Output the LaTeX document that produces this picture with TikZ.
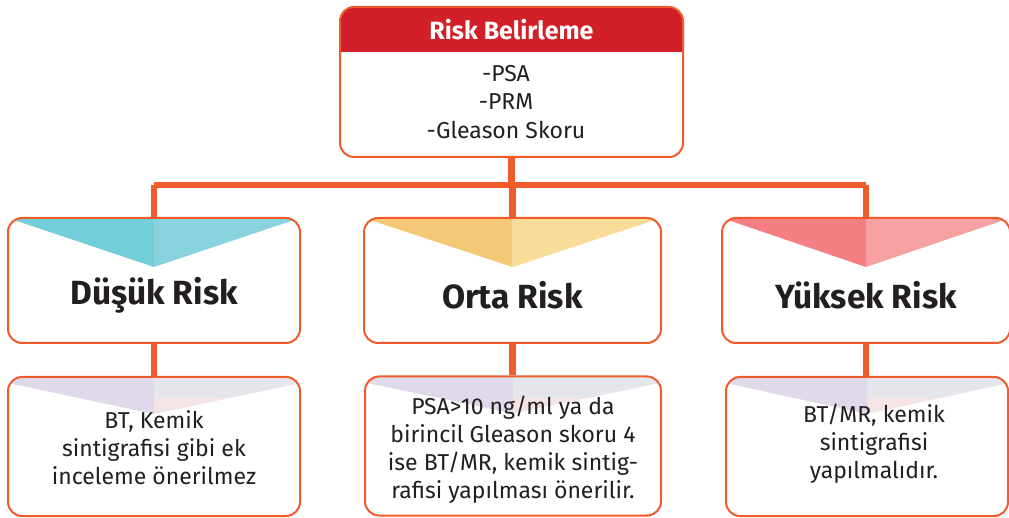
\documentclass[tikz,border=0pt]{standalone}
\usepackage{fontspec}
\setmainfont{Fira Sans}
\usetikzlibrary{calc}
\definecolor{orline}{HTML}{F15A2B}
\definecolor{hdrred}{HTML}{D12028}
\definecolor{txt}{HTML}{231F20}
\definecolor{tealL}{HTML}{72CFDA}
\definecolor{tealR}{HTML}{88D3DE}
\definecolor{yelL}{HTML}{F5C878}
\definecolor{yelR}{HTML}{F8DC98}
\definecolor{redL}{HTML}{F47E82}
\definecolor{redR}{HTML}{F6A09F}
\definecolor{lavL}{HTML}{DFD9E9}
\definecolor{grayR}{HTML}{E5E5EC}
\definecolor{pinkR}{HTML}{F4E4E6}
\pgfdeclarelayer{bg}
\pgfsetlayers{bg,main}
\tikzset{
  x=1pt, y=-1pt,
  conn/.style={line width=6.5pt, draw=orline},
  box/.style={draw=orline, line width=2pt, rounded corners=14pt, fill=white,
    inner sep=0pt, rectangle},
  midbox/.style 2 args={box, minimum width=292pt, minimum height=125pt,
    path picture={
      \fill[#1, sharp corners] (path picture bounding box.north west) -- (path picture bounding box.north)
        -- ($(path picture bounding box.north)+(0,49)$) -- cycle;
      \fill[#2, sharp corners] (path picture bounding box.north) -- (path picture bounding box.north east)
        -- ($(path picture bounding box.north)+(0,49)$) -- cycle;
    }},
  lowbox/.style={box, minimum height=139pt,
    path picture={
      \fill[lavL, sharp corners] (path picture bounding box.north west) -- (path picture bounding box.north)
        -- ($(path picture bounding box.north)+(0,37)$) -- ($(path picture bounding box.north west)+(0,6)$) -- cycle;
      \begin{scope}[sharp corners]
        \clip (path picture bounding box.north) -- (path picture bounding box.north east)
          -- ($(path picture bounding box.north east)+(0,6)$) -- ($(path picture bounding box.north)+(0,37)$) -- cycle;
        \fill[pinkR] ($(path picture bounding box.north)+(0,-2)$) rectangle ($(path picture bounding box.north east)+(0,40)$);
        \fill[grayR] ($(path picture bounding box.north)+(0,-2)$) rectangle ($(path picture bounding box.north east)+(0,21)$);
      \end{scope}
    }},
  title/.style={font=\bfseries\fontsize{33.5}{38}\selectfont, text=txt},
  body/.style={font=\fontsize{23}{28}\selectfont, text=txt, align=center},
}
\begin{document}
\begin{tikzpicture}
\useasboundingbox (0,0) rectangle (1009,518);
% top box
\node[box, minimum width=343pt, minimum height=150pt,
  path picture={\fill[hdrred, sharp corners] (path picture bounding box.north west) rectangle ($(path picture bounding box.north east)+(0,45)$);}]
  (top) at (511.5,82) {};
\node[font=\bfseries\fontsize{25}{28}\selectfont, text=white] (toptitle) at (511.5,30) {Risk Belirleme};
\node[font=\fontsize{23}{28.5}\selectfont, text=txt, align=center] (toptext) at (506,102) {-PSA\\-PRM\\-Gleason Skoru};
% middle boxes
\node[midbox={tealL}{tealR}] (m1) at (154,280.5) {};
\node[midbox={yelL}{yelR}, minimum width=297pt] (m2) at (512.5,280.5) {};
\node[midbox={redL}{redR}, minimum width=288pt] (m3) at (866,280.5) {};
\node[title] (t1) at (154,295) {Düşük Risk};
\node[title] (t2) at (512.5,295) {Orta Risk};
\node[title] (t3) at (866,295) {Yüksek Risk};
% bottom boxes
\node[lowbox, minimum width=292pt] (b1) at (154,446.5) {};
\node[lowbox, minimum width=296pt] (b2) at (513,446) {};
\node[lowbox, minimum width=282pt] (b3) at (867,446.5) {};
\node[body] (x1) at (154,448) {BT, Kemik\\sintigrafisi gibi ek\\inceleme önerilmez};
\node[body] (x2) at (513,450) {PSA>10 ng/ml ya da\\birincil Gleason skoru 4\\ise BT/MR, kemik sintig-\\rafisi yapılması önerilir.};
\node[body] (x3) at (874,444) {BT/MR, kemik\\sintigrafisi\\yapılmalıdır.};
% connectors
\coordinate (hl) at (m1.north |- 0,185);
\coordinate (hr) at (m3.north |- 0,185);
\begin{pgfonlayer}{bg}
\draw[conn] (hl) -- (hr);
\draw[conn] (top.south) -- (top.south |- hl);
\draw[conn] (hl) -- (m1.north);
\draw[conn] (m2.north |- hl) -- (m2.north);
\draw[conn] (hr) -- (m3.north);
\draw[conn] (m1.south) -- (m1.south |- b1.north);
\draw[conn] (m2.south) -- (m2.south |- b2.north);
\draw[conn] (m3.south) -- (m3.south |- b3.north);
\end{pgfonlayer}
\end{tikzpicture}
\end{document}
